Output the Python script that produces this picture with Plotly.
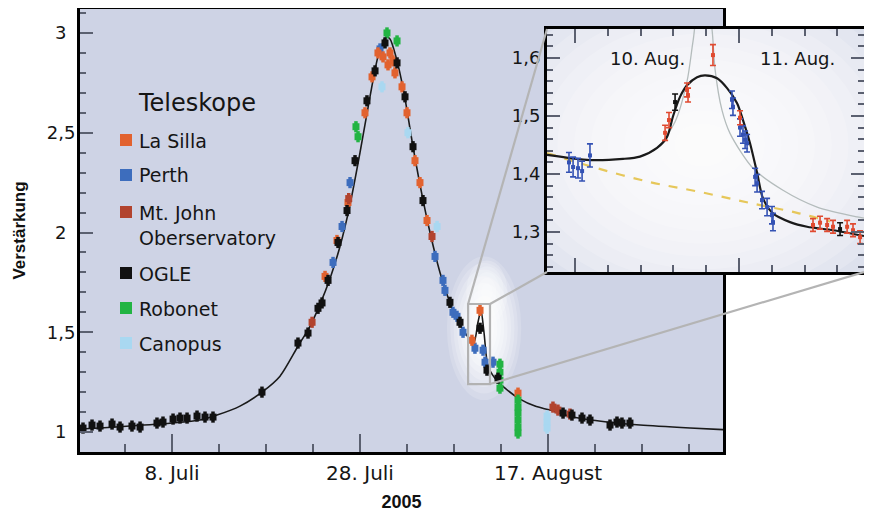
import pandas as pd
import plotly.graph_objects as go

# ---------------- data ----------------
# main chart: x = days since 1 July 2005, y = Verstärkung (magnification)
model_days = [-2.79, -0.66, 2.53, 7.0, 9.98, 11.79, 14.23, 16.57, 18.49, 20.40, 21.68, 22.74,
              23.81, 24.87, 25.94, 27.0, 28.06, 28.91, 29.77, 30.19, 30.83, 31.68, 32.53, 33.38,
              34.45, 35.51, 36.57, 37.64, 38.70, 39.13, 39.55, 39.87, 40.19, 40.62, 41.36, 42.43,
              44.02, 45.62, 47.21, 49.66, 53.28, 56.79, 62.11, 65.62]
model_mag = [1.015, 1.02, 1.03, 1.045, 1.06, 1.085, 1.13, 1.2, 1.28, 1.43, 1.53, 1.64,
             1.77, 1.93, 2.14, 2.40, 2.68, 2.88, 2.98, 2.97, 2.88, 2.70, 2.46, 2.24,
             2.0, 1.8, 1.65, 1.54, 1.465, 1.45, 1.55, 1.61, 1.50, 1.33, 1.27, 1.22,
             1.165, 1.13, 1.11, 1.075, 1.05, 1.035, 1.02, 1.012]

ogle_days = [-2.47, -1.51, -0.66, 0.62, 1.47, 2.74, 3.60, 5.40, 6.04, 7.11, 7.85, 8.60, 9.66, 10.51,
             11.36, 16.57, 20.40, 21.47, 22.53, 22.96, 23.60, 24.66, 25.62, 26.47, 27.74, 28.60,
             29.66, 30.94, 31.79, 32.64, 33.70, 36.57, 37.64, 39.77, 40.51, 41.68, 48.60, 49.55,
             50.62, 51.47, 53.60, 54.34, 54.87, 55.72]
ogle_mag = [1.02, 1.035, 1.03, 1.04, 1.025, 1.03, 1.025, 1.045, 1.05, 1.065, 1.07, 1.07, 1.08, 1.075,
            1.075, 1.2, 1.446, 1.496, 1.62, 1.647, 1.76, 1.95, 2.11, 2.36, 2.66, 2.81,
            2.95, 2.85, 2.68, 2.43, 2.16, 1.65, 1.55, 1.52, 1.31, 1.27, 1.095, 1.085,
            1.07, 1.06, 1.035, 1.05, 1.045, 1.045]

lasilla_days = [23.28, 24.55, 25.72, 27.53, 28.28, 28.91, 29.45, 29.98, 30.19, 30.51, 30.72, 31.47,
                32.0, 32.85, 33.38, 34.13, 38.91, 39.77, 43.81]
lasilla_mag = [1.78, 1.96, 2.15, 2.6, 2.78, 2.9, 2.88, 2.84, 2.9, 2.86, 2.8, 2.73,
               2.6, 2.36, 2.25, 2.06, 1.46, 1.61, 1.195]

mtjohn_days = [21.9, 25.8, 34.66, 47.53, 48.06, 49.34]
mtjohn_mag = [1.55, 2.17, 1.98, 1.125, 1.11, 1.09]

perth_days = [24.13, 25.09, 25.94, 29.13, 34.98, 35.83, 36.04, 36.89, 37.32, 37.96, 39.23, 40.09,
              40.30, 41.15]
perth_mag = [1.85, 2.03, 2.25, 2.92, 1.88, 1.76, 1.71, 1.6, 1.58, 1.5, 1.42, 1.41, 1.35, 1.35]

robonet_days = [26.57, 26.79, 29.87, 30.94, 41.89, 41.89, 41.89, 41.89, 43.81, 43.81, 43.81, 43.81,
                43.81, 43.81]
robonet_mag = [2.53, 2.48, 3.0, 2.96, 1.34, 1.30, 1.26, 1.22, 1.16, 1.125, 1.095, 1.06, 1.025, 0.995]

canopus_days = [29.34, 32.1, 35.2, 46.9, 46.9, 46.9]
canopus_mag = [2.73, 2.5, 2.03, 1.08, 1.05, 1.02]

main_err = 0.028

# inset: x = days since 10 August 2005
inset_model_days = [-0.171, 0.091, 0.293, 0.396, 0.5, 0.561, 0.598, 0.64, 0.683, 0.744, 0.793, 0.866,
                    0.927, 0.988, 1.024, 1.067, 1.11, 1.146, 1.207, 1.311, 1.415, 1.573, 1.762]
inset_model_mag = [1.433, 1.424, 1.426, 1.43, 1.445, 1.464, 1.5, 1.533, 1.553, 1.567, 1.57, 1.565,
                   1.548, 1.522, 1.493, 1.453, 1.402, 1.358, 1.332, 1.317, 1.309, 1.303, 1.293]
inset_alt_days = [0.396, 0.5, 0.61, 0.683, 0.72, 0.762, 0.805, 0.835, 0.854, 0.896, 0.945, 1.085,
                  1.268, 1.476, 1.72, 1.762]
inset_alt_mag = [1.43, 1.445, 1.49, 1.56, 1.63, 1.70, 1.70, 1.65, 1.58, 1.51, 1.47, 1.41,
                 1.372, 1.343, 1.326, 1.324]
inset_base_days = [-0.171, 0.134, 0.457, 0.762, 1.067, 1.354, 1.555]
inset_base_mag = [1.436, 1.41, 1.386, 1.369, 1.35, 1.333, 1.318]

perth_in_days = [-0.037, -0.012, 0.018, 0.043, 0.091, 0.957, 0.963, 1.006, 1.024, 1.037, 1.049,
                 1.098, 1.11, 1.14, 1.171, 1.201, 1.207]
perth_in_mag = [1.42, 1.412, 1.41, 1.405, 1.432, 1.528, 1.516, 1.48, 1.468, 1.459, 1.453,
                1.395, 1.384, 1.355, 1.343, 1.329, 1.317]
perth_in_err = [0.017, 0.017, 0.017, 0.017, 0.02, 0.015, 0.015, 0.015, 0.015, 0.015, 0.015,
                0.015, 0.015, 0.015, 0.015, 0.015, 0.015]
lasilla_in_days = [0.549, 0.573, 0.683, 0.689, 0.841, 1.006, 1.451, 1.494, 1.537, 1.573, 1.659,
                   1.695, 1.738]
lasilla_in_mag = [1.471, 1.493, 1.545, 1.536, 1.605, 1.497, 1.312, 1.316, 1.312, 1.309, 1.309,
                  1.303, 1.291]
lasilla_in_err = [0.013, 0.013, 0.012, 0.012, 0.018, 0.012, 0.011, 0.011, 0.011, 0.011, 0.011,
                  0.011, 0.011]
ogle_in_days = [0.61, 1.616]
ogle_in_mag = [1.524, 1.305]
ogle_in_err = [0.014, 0.011]

y_ticks = [1, 1.5, 2, 2.5, 3]
y_ticktext = ["1\u2002", "1,5", "2\u2002", "2,5", "3\u2002"]
x_ticks = ["2005-07-08", "2005-07-28", "2005-08-17"]
x_ticktext = ["8. Juli", "28. Juli", "17. August"]
inset_y_ticks = [1.3, 1.4, 1.5, 1.6]
inset_y_ticktext = ["1,3", "1,4", "1,5", "1,6"]
inset_x_ticks = ["2005-08-10", "2005-08-11"]
inset_day_labels = ["10. Aug.", "11. Aug."]
inset_day_label_pos = [0.44, 1.354]

legend_names = ["La Silla", "Perth", "Mt. John<br>Oberservatory", "OGLE", "Robonet", "Canopus"]
legend_colors = ["#e2622f", "#3d6dbd", "#b2432e", "#111111", "#22b443", "#a9d8f1"]

# zoom region marked in the main chart (days since 1 July, magnification)
zoom_days = [38.5, 40.83]
zoom_mag = [1.2406, 1.6416]

# ---------------- helpers ----------------
BASE_MAIN = pd.Timestamp("2005-07-01")
BASE_INSET = pd.Timestamp("2005-08-10")


def mdates(days):
    return [BASE_MAIN + pd.Timedelta(days=d) for d in days]


def idates(days):
    return [BASE_INSET + pd.Timedelta(days=d) for d in days]


OFF = 8                      # page offset of the plot div (body margin)
W, H = 864, 516
ML, MR, MT, MB = 72, 8, 1, 72
PW, PH = W - ML - MR, H - MT - MB


def px(page_x):
    return (page_x - OFF - ML) / PW


def py(page_y):
    return (H - MB - (page_y - OFF)) / PH


main_xrange_days = [-2.79, 65.62]
main_yrange = [0.9, 3.12]
main_xdom = [0.0, px(723)]
inset_xdom = [px(547), 1.0]
inset_ydom = [py(272), py(29)]
inset_xrange_days = [-0.171, 1.762]
inset_yrange = [1.231, 1.65]

FONT = "DejaVu Sans"
BOLDNARROW = "Liberation Sans Narrow, Liberation Sans"

fig = go.Figure()

# main model curve
fig.add_trace(go.Scatter(x=mdates(model_days), y=model_mag, mode="lines",
                         line=dict(color="#1a1a1a", width=1.6, shape="spline", smoothing=0.7),
                         hoverinfo="skip"))


def main_points(days, mag, color):
    fig.add_trace(go.Scatter(
        x=mdates(days), y=mag, mode="markers",
        marker=dict(symbol="square", size=7, color=color, line=dict(width=0)),
        error_y=dict(type="constant", value=main_err, color=color, thickness=3.5, width=0)))


main_points(perth_days, perth_mag, legend_colors[1])
main_points(lasilla_days, lasilla_mag, legend_colors[0])
main_points(mtjohn_days, mtjohn_mag, legend_colors[2])
main_points(canopus_days, canopus_mag, legend_colors[5])
main_points(robonet_days, robonet_mag, legend_colors[4])
main_points(ogle_days, ogle_mag, legend_colors[3])

# inset curves
fig.add_trace(go.Scatter(x=idates(inset_alt_days), y=inset_alt_mag, mode="lines", xaxis="x2", yaxis="y2",
                         line=dict(color="#b4bcbc", width=1.3, shape="spline", smoothing=0.8)))
fig.add_trace(go.Scatter(x=idates(inset_base_days), y=inset_base_mag, mode="lines", xaxis="x2", yaxis="y2",
                         line=dict(color="#e6c75a", width=2.2, dash="dash", shape="spline")))
fig.add_trace(go.Scatter(x=idates(inset_model_days), y=inset_model_mag, mode="lines", xaxis="x2", yaxis="y2",
                         line=dict(color="#1a1a1a", width=2.2, shape="spline", smoothing=0.8)))


def inset_points(days, mag, err, color):
    fig.add_trace(go.Scatter(
        x=idates(days), y=mag, mode="markers", xaxis="x2", yaxis="y2",
        marker=dict(symbol="square", size=4, color=color),
        error_y=dict(type="data", array=err, color=color, thickness=1.6, width=3)))


inset_points(perth_in_days, perth_in_mag, perth_in_err, "#3452b4")
inset_points(lasilla_in_days, lasilla_in_mag, lasilla_in_err, "#e04a30")
inset_points(ogle_in_days, ogle_in_mag, ogle_in_err, "#111111")

shapes = []
# soft glow in main chart around the zoom region
gc_t, gc_v = 40.2, 1.52
n = 10
for i in range(n):
    s = 1.2 - i * 0.11
    dx, dy = 3.3 * s, 0.30 * s
    shapes.append(dict(type="circle", xref="x", yref="y", layer="below",
                       x0=BASE_MAIN + pd.Timedelta(days=gc_t - dx), x1=BASE_MAIN + pd.Timedelta(days=gc_t + dx),
                       y0=gc_v - dy, y1=gc_v + dy, fillcolor="white", opacity=0.16 + 0.02 * i,
                       line=dict(width=0)))
for i in range(5):
    s = 1.0 - i * 0.18
    dx, dy = 2.2 * s, 0.16 * s
    shapes.append(dict(type="circle", xref="x", yref="y", layer="below",
                       x0=BASE_MAIN + pd.Timedelta(days=40.5 - dx), x1=BASE_MAIN + pd.Timedelta(days=40.5 + dx),
                       y0=1.70 - dy, y1=1.70 + dy, fillcolor="white", opacity=0.2, line=dict(width=0)))
# soft glow in inset
ic_t, ic_v = 0.78, 1.45
n = 14
for i in range(n):
    s = 1.25 - i * 0.085
    dx, dy = 1.2 * s, 0.26 * s
    shapes.append(dict(type="circle", xref="x2", yref="y2", layer="below",
                       x0=BASE_INSET + pd.Timedelta(days=ic_t - dx), x1=BASE_INSET + pd.Timedelta(days=ic_t + dx),
                       y0=ic_v - dy, y1=ic_v + dy, fillcolor="white", opacity=0.18, line=dict(width=0)))

# zoom rectangle
shapes.append(dict(type="rect", xref="x", yref="y",
                   x0=BASE_MAIN + pd.Timedelta(days=zoom_days[0]), x1=BASE_MAIN + pd.Timedelta(days=zoom_days[1]),
                   y0=zoom_mag[0], y1=zoom_mag[1], line=dict(color="#b2b2b2", width=2.2)))


def mx(day):
    f = (day - main_xrange_days[0]) / (main_xrange_days[1] - main_xrange_days[0])
    return main_xdom[0] + f * (main_xdom[1] - main_xdom[0])


def my(v):
    return (v - main_yrange[0]) / (main_yrange[1] - main_yrange[0])


connectors = [((mx(zoom_days[0]), my(zoom_mag[1])), (inset_xdom[0], inset_ydom[1])),
              ((mx(zoom_days[1]), my(zoom_mag[1])), (inset_xdom[0], inset_ydom[0])),
              ((mx(zoom_days[1]), my(zoom_mag[0])), (inset_xdom[1], inset_ydom[0]))]
for (a, b) in connectors:
    shapes.append(dict(type="line", xref="paper", yref="paper", x0=a[0], y0=a[1], x1=b[0], y1=b[1],
                       line=dict(color="#b4b4b4", width=2.2)))

# manual legend
annotations = [dict(text="Teleskope", xref="paper", yref="paper", x=px(136), y=py(103),
                    xanchor="left", yanchor="middle", showarrow=False,
                    font=dict(family=FONT, size=24, color="#151515"))]
legend_y = [140, 175, 212, 273, 308, 343]
for name, col, yy in zip(legend_names, legend_colors, legend_y):
    shapes.append(dict(type="rect", xref="paper", yref="paper", x0=px(120), x1=px(132),
                       y0=py(yy + 6), y1=py(yy - 6), fillcolor=col, line=dict(width=0)))
    annotations.append(dict(text=name, xref="paper", yref="paper", x=px(137),
                            y=py(yy - 12.5), xanchor="left", yanchor="top", align="left",
                            showarrow=False, font=dict(family=FONT, size=19, color="#151515")))

for lab, pos in zip(inset_day_labels, inset_day_label_pos):
    annotations.append(dict(text=lab, xref="x2", yref="y2", x=BASE_INSET + pd.Timedelta(days=pos), y=1.6,
                            xanchor="center", yanchor="middle", showarrow=False,
                            font=dict(family=FONT, size=18, color="#151515")))

tickc = "#5b6070"
fig.update_layout(
    template="none",
    width=W, height=H,
    margin=dict(l=ML, r=MR, t=MT, b=MB, autoexpand=False),
    paper_bgcolor="white", plot_bgcolor="#ced3e5",
    showlegend=False,
    separators=",.",
    font=dict(family=FONT, color="#151515"),
    xaxis=dict(domain=main_xdom, type="date", anchor="y",
               range=[BASE_MAIN + pd.Timedelta(days=main_xrange_days[0]),
                      BASE_MAIN + pd.Timedelta(days=main_xrange_days[1])],
               showline=True, linecolor="black", linewidth=3, mirror=True,
               showgrid=False, zeroline=False,
               ticks="inside", ticklen=18, tickwidth=2.2, tickcolor=tickc,
               tickvals=x_ticks, ticktext=x_ticktext, ticklabelstandoff=1,
               tickfont=dict(family=FONT, size=20, color="#151515"),
               minor=dict(ticks="inside", ticklen=8, tickwidth=2, tickcolor=tickc,
                          dtick=5 * 86400000, tick0="2005-07-03", showgrid=False),
               title=dict(text="<b>2005</b>", standoff=12,
                          font=dict(family=BOLDNARROW, size=18, color="#111"))),
    yaxis=dict(domain=[0, 1], anchor="x", range=main_yrange,
               showline=True, linecolor="black", linewidth=3, mirror=True,
               showgrid=False, zeroline=False,
               ticks="inside", ticklen=13, tickwidth=2.2, tickcolor=tickc,
               tickvals=y_ticks, ticktext=y_ticktext, ticklabelstandoff=-2,
               tickfont=dict(family=FONT, size=18, color="#151515"),
               minor=dict(ticks="inside", ticklen=6, tickwidth=2, tickcolor=tickc,
                          dtick=0.1, tick0=1, showgrid=False),
               title=dict(text="<b>Verstärkung</b>", standoff=17,
                          font=dict(family=BOLDNARROW, size=17, color="#111"))),
    xaxis2=dict(domain=inset_xdom, anchor="y2", type="date",
                range=[BASE_INSET + pd.Timedelta(days=inset_xrange_days[0]),
                       BASE_INSET + pd.Timedelta(days=inset_xrange_days[1])],
                showline=True, linecolor="black", linewidth=3, mirror="allticks",
                showgrid=False, zeroline=False, showticklabels=False,
                ticks="inside", ticklen=14, tickwidth=2, tickcolor=tickc,
                tickvals=inset_x_ticks,
                minor=dict(ticks="inside", ticklen=7, tickwidth=2, tickcolor=tickc,
                           dtick=0.2 * 86400000, tick0="2005-08-10", showgrid=False)),
    yaxis2=dict(domain=inset_ydom, anchor="x2", range=inset_yrange,
                showline=True, linecolor="black", linewidth=3, mirror="allticks",
                showgrid=False, zeroline=False,
                ticks="inside", ticklen=13, tickwidth=2, tickcolor=tickc,
                tickvals=inset_y_ticks, ticktext=inset_y_ticktext, ticklabelstandoff=0,
                tickfont=dict(family=FONT, size=18, color="#151515"),
                minor=dict(ticks="inside", ticklen=6, tickwidth=1.5, tickcolor=tickc,
                           dtick=0.02, tick0=1.3, showgrid=False)),
    shapes=shapes,
    annotations=annotations,
)

fig.write_html("out.html")
